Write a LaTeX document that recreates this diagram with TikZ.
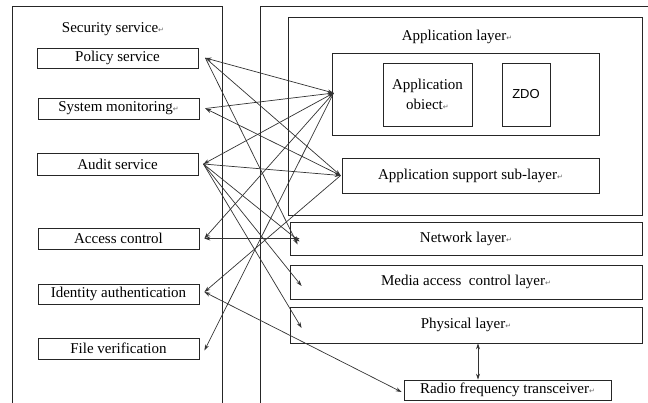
\documentclass[tikz,border=0pt]{standalone}
\usepackage{fontspec}
\setmainfont{Liberation Serif}
\newfontfamily\symfont{DejaVu Sans}
\newfontfamily\arialfont{Liberation Sans}
\usetikzlibrary{arrows.meta}
\newcommand{\retmark}{{\symfont\fontsize{7}{7}\selectfont\color{black!60}↵}}
\begin{document}
\begin{tikzpicture}[x=1pt,y=-1pt,
  box/.style={draw=black!85,line width=0.8pt,inner sep=0pt,font=\fontsize{15}{18}\selectfont},
  lbl/.style={inner sep=0pt,font=\fontsize{15}{18}\selectfont},
  conn/.style={draw=black!80,line width=0.7pt,-{Stealth[length=6pt,width=4pt]}},
  conn2/.style={draw=black!80,line width=0.7pt,{Stealth[length=6pt,width=4pt]}-{Stealth[length=6pt,width=4pt]}}]
\useasboundingbox (0,0) rectangle (648,402);
\begin{scope}
\clip (0,0) rectangle (648,402);
% outer frames
\draw[line width=0.8pt,black!85] (12,420) -- (12,6) -- (222,6) -- (222,420);
\draw[line width=0.8pt,black!85] (260,420) -- (260,6) -- (660,6);
\end{scope}
\node[lbl] (sec) at (113,29) {Security service\retmark};
% left boxes
\node[box,minimum width=161pt,minimum height=20pt] (pol) at (117.5,58) {Policy service};
\node[box,minimum width=161pt,minimum height=21pt] (sm) at (118.5,108.5) {System monitoring\retmark};
\node[box,minimum width=161pt,minimum height=22pt] (aud) at (117.5,164) {Audit service};
\node[box,minimum width=161pt,minimum height=21pt] (ac) at (118.5,238.5) {Access control};
\node[box,minimum width=161pt,minimum height=20pt] (ida) at (118.5,294) {Identity authentication};
\node[box,minimum width=161pt,minimum height=21pt] (fv) at (118.5,348.5) {File verification};
% right side
\node[box,minimum width=354pt,minimum height=198pt] (app) at (465,116) {};
\node[lbl] (applbl) at (457,37) {Application layer\retmark};
\node[box,minimum width=267pt,minimum height=82pt] (inner) at (465.5,94) {};
\node[box,minimum width=89pt,minimum height=63pt,align=center,font=\fontsize{15}{21}\selectfont] (aobj) at (427.5,94.5) {Application\\[-1pt]obiect\retmark};
\node[box,minimum width=48pt,minimum height=63pt,font=\arialfont\fontsize{13}{15}\selectfont] (zdo) at (526,94.5) {ZDO};
\node[box,minimum width=257pt,minimum height=35pt] (aps) at (470.5,175.5) {Application support sub-layer\retmark};
\node[box,minimum width=352pt,minimum height=33pt] (nw) at (466,238.5) {Network layer\retmark};
\node[box,minimum width=352pt,minimum height=34pt] (mac) at (466,282) {Media access\ \ control layer\retmark};
\node[box,minimum width=352pt,minimum height=36pt] (phy) at (466,325) {Physical layer\retmark};
\node[box,minimum width=207pt,minimum height=20pt] (rf) at (507.5,390) {Radio frequency transceiver\retmark};
% anchor points
\coordinate (pP) at ([xshift=7pt]pol.east);
\coordinate (pSM) at ([xshift=6pt,yshift=0pt]sm.east);
\coordinate (pAU) at ([xshift=5pt]aud.east);
\coordinate (pAC) at ([xshift=5pt]ac.east);
\coordinate (pID) at ([xshift=5pt,yshift=2pt]ida.east);
\coordinate (pFV) at ([xshift=5pt,yshift=-2pt]fv.east);
\coordinate (pA) at ([xshift=2pt,yshift=1pt]inner.west);
\coordinate (pAPS) at ([xshift=-1pt]aps.west);
\coordinate (pNW) at ([xshift=10pt]nw.west);
\coordinate (pNW2) at ([xshift=8pt,yshift=-6pt]nw.west);
\coordinate (pNW3) at ([xshift=10pt,yshift=-3pt]nw.west);
\coordinate (pMAC) at ([xshift=12pt,yshift=-4pt]mac.west);
\coordinate (pPHY) at ([xshift=12pt,yshift=-3pt]phy.west);
\coordinate (pRF) at ([xshift=-2pt,yshift=-2pt]rf.west);
% connectors
\draw[conn2] (pP) -- (pA);
\draw[conn] (pSM) -- (pA);
\draw[conn] (pAPS) -- (pSM);
\draw[conn] (pP) -- (pAPS);
\draw[conn] (pP) -- (pNW2);
\draw[conn2] (pAU) -- (pA);
\draw[conn] (pAU) -- (pAPS);
\draw[conn] (pAU) -- (pNW3);
\draw[conn] (pAU) -- (pMAC);
\draw[conn] (pAU) -- (pPHY);
\draw[conn2] (pAC) -- (pNW);
\draw[conn] (pA) -- (pAC);
\draw[conn] (pAPS) -- (pID);
\draw[conn] (pA) -- (pFV);
\draw[conn2] (pRF) -- (pID);
\draw[conn2] (phy.south -| 478,0) -- (rf.north -| 478,0);
\end{tikzpicture}
\end{document}
